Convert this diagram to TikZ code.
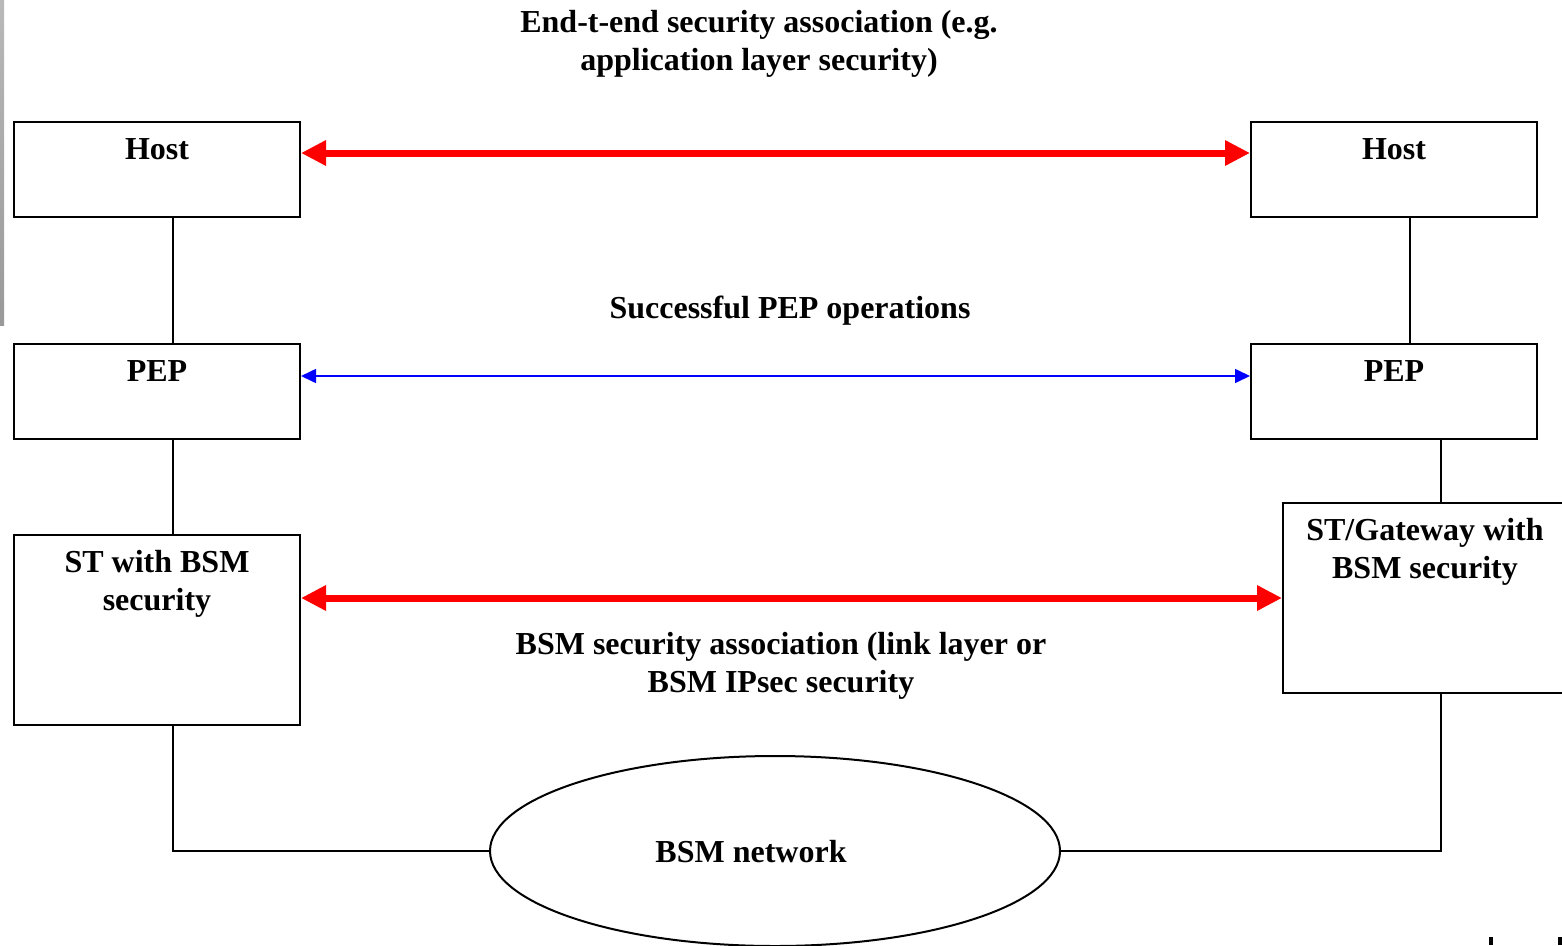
\documentclass[tikz,border=0pt]{standalone}
\usepackage{fontspec}
\setmainfont{Liberation Serif}
\usetikzlibrary{arrows.meta,shapes.geometric}

\tikzset{
  box/.style={draw, line width=2pt, minimum width=286pt, inner sep=0pt},
  lbl/.style={font=\fontsize{32}{38}\selectfont\bfseries, inner sep=0pt, align=center, anchor=base},
  wire/.style={line width=1.6pt},
  secarrow/.style={draw=red, line width=7pt, {Triangle[length=25pt,width=24pt]}-{Triangle[length=25pt,width=24pt]}},
  peparrow/.style={draw=blue, line width=1.6pt, {Triangle[length=15pt,width=14pt]}-{Triangle[length=15pt,width=14pt]}}
}

\begin{document}
\begin{tikzpicture}[x=1pt, y=-1pt]
\useasboundingbox (0,0) rectangle (1562,945);
\clip (0,0) rectangle (1562,945);

% thin shaded strip on the left margin
\shade[top color=gray!55, bottom color=gray!80] (0,0) rectangle (4,325);

% boxes
\node[box, minimum height=95pt]  (hostL) at (157,169.5) {};
\node[box, minimum height=95pt]  (hostR) at (1394,169.5) {};
\node[box, minimum height=95pt]  (pepL)  at (157,391.5) {};
\node[box, minimum height=95pt]  (pepR)  at (1394,391.5) {};
\node[box, minimum height=190pt] (stL)   at (157,630) {};
\node[box, minimum height=190pt] (stR)   at (1426,598) {};
\node[draw, line width=2pt, ellipse, minimum width=570pt, minimum height=190pt, inner sep=0pt] (net) at (775,851) {};

% box texts (base anchor = baseline of the last line)
\node[lbl] (hostLt) at (157,159) {Host};
\node[lbl] (hostRt) at (1394,159) {Host};
\node[lbl] (pepLt)  at (157,381) {PEP};
\node[lbl] (pepRt)  at (1394,381) {PEP};
\node[lbl] (stLt)   at (157,610) {ST with BSM\\security};
\node[lbl] (stRt)   at (1425,578) {ST/Gateway with\\BSM security};
\node[lbl] (nett)   at (751,862) {BSM network};

% free labels
\node[lbl] (e2e) at (759,70) {End-t-end security association (e.g.\\application layer security)};
\node[lbl] (pepop) at (790,318) {Successful PEP operations};
\node[lbl] (bsmsa) at (781,692) {BSM security association (link layer or\\BSM IPsec security};

% vertical links
\draw[wire] ([xshift=16pt]hostL.south) -- ([xshift=16pt]pepL.north);
\draw[wire] ([xshift=16pt]pepL.south) -- ([xshift=16pt]stL.north);
\draw[wire] ([xshift=16pt]hostR.south) -- ([xshift=16pt]pepR.north);
\draw[wire] ([xshift=47pt]pepR.south) -- ([xshift=15pt]stR.north);
\draw[wire] ([xshift=16pt]stL.south) |- (net.west);
\draw[wire] ([xshift=15pt]stR.south) |- (net.east);

% security associations
\draw[secarrow] ([yshift=16.5pt]hostL.east) -- ([yshift=16.5pt]hostR.west);
\draw[peparrow] ([yshift=15.5pt]pepL.east) -- ([yshift=15.5pt]pepR.west);
\draw[secarrow] (stL.east |- stR.west) -- (stR.west);

% small marks at the lower right edge
\fill (1489,937) rectangle (1493,945);
\fill (1558,937) rectangle (1562,945);
\end{tikzpicture}
\end{document}
